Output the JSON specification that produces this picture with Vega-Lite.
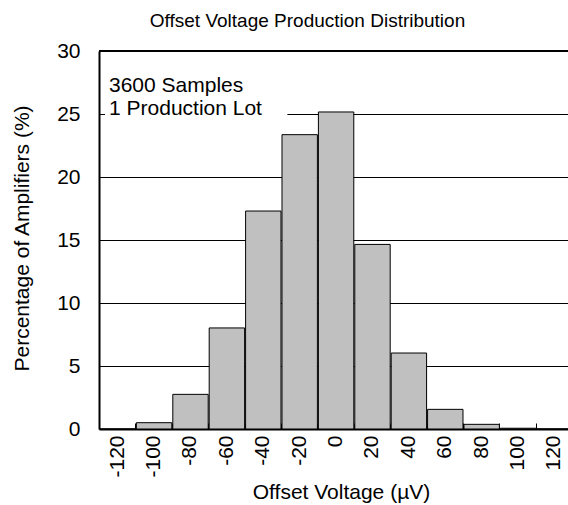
{
  "$schema": "https://vega.github.io/schema/vega-lite/v6.json",
  "width": 469,
  "height": 378,
  "autosize": {"type": "none"},
  "padding": {"left": 99, "top": 51, "right": 0, "bottom": 76},
  "background": "white",
  "config": {
    "view": {"stroke": null},
    "font": "Liberation Sans",
    "axis": {"labelFont": "Liberation Sans", "titleFont": "Liberation Sans", "labelColor": "#000", "titleColor": "#000", "titleFontWeight": "normal"}
  },
  "title": {
    "text": "Offset Voltage Production Distribution",
    "fontSize": 19,
    "fontWeight": "normal",
    "color": "#000",
    "anchor": "middle",
    "dx": -26,
    "offset": 24,
    "dy": 30,
    "baseline": "alphabetic"
  },
  "layer": [
    {
      "data": {
        "values": [
          {"center": -120, "start": -130, "end": -110, "pct": 0},
          {"center": -100, "start": -110, "end": -90, "pct": 0.5},
          {"center": -80, "start": -90, "end": -70, "pct": 2.75},
          {"center": -60, "start": -70, "end": -50, "pct": 8.02},
          {"center": -40, "start": -50, "end": -30, "pct": 17.3},
          {"center": -20, "start": -30, "end": -10, "pct": 23.36},
          {"center": 0, "start": -10, "end": 10, "pct": 25.16},
          {"center": 20, "start": 10, "end": 30, "pct": 14.65},
          {"center": 40, "start": 30, "end": 50, "pct": 6.03},
          {"center": 60, "start": 50, "end": 70, "pct": 1.56},
          {"center": 80, "start": 70, "end": 90, "pct": 0.37},
          {"center": 100, "start": 90, "end": 110, "pct": 0.06},
          {"center": 120, "start": 110, "end": 130, "pct": 0}
        ]
      },
      "mark": {"type": "bar", "fill": "#c0c0c0", "stroke": "#000", "strokeWidth": 1, "clip": true},
      "encoding": {
        "x": {
          "field": "start",
          "type": "quantitative",
          "bin": "binned",
          "scale": {"domain": [-130, 127.7], "nice": false, "zero": false},
          "axis": {
            "values": [-120, -100, -80, -60, -40, -20, 0, 20, 40, 60, 80, 100, 120],
            "tickCount": 30,
            "labelExpr": "replace(datum.label, '\u2212', '-')",
            "labelOverlap": false,
            "labelAngle": -90,
            "labelFontSize": 21,
            "labelPadding": 12,
            "tickOffset": 18.2,
            "labelOffset": -18.2,
            "tickSize": -6,
            "tickColor": "#000",
            "tickWidth": 1,
            "domainColor": "#000",
            "domainWidth": 2,
            "grid": false,
            "title": "Offset Voltage (µV)",
            "titleFontSize": 21,
            "titleBaseline": "alphabetic",
            "titleX": 242,
            "titleY": 69
          }
        },
        "x2": {"field": "end"},
        "y": {
          "field": "pct",
          "type": "quantitative",
          "scale": {"domain": [0, 30], "nice": false},
          "axis": {
            "values": [0, 5, 10, 15, 20, 25, 30],
            "tickCount": 30,
            "ticks": false,
            "labelFontSize": 21,
            "labelPadding": 19,
            "domainColor": "#000",
            "domainWidth": 2,
            "grid": true,
            "gridColor": "#000",
            "gridWidth": 1.2,
            "title": "Percentage of Amplifiers (%)",
            "titleFontSize": 21,
            "titleX": -77,
            "titleY": 187,
            "titleBaseline": "middle",
            "titleAlign": "center"
          }
        }
      }
    },
    {
      "data": {"values": [{}]},
      "mark": {"type": "rect", "fill": "white", "stroke": null},
      "encoding": {
        "x": {"datum": -126.7},
        "x2": {"datum": -26.5},
        "y": {"datum": 24.4},
        "y2": {"datum": 29}
      }
    },
    {
      "data": {"values": [{}]},
      "mark": {"type": "text", "text": ["3600 Samples", "1 Production Lot"], "align": "left", "baseline": "alphabetic", "fontSize": 21, "lineHeight": 23, "color": "#000"},
      "encoding": {
        "x": {"datum": -124.5},
        "y": {"datum": 26.75}
      }
    },
    {
      "data": {"values": [{}]},
      "mark": {"type": "rule", "stroke": "#000", "strokeWidth": 2},
      "encoding": {
        "y": {"datum": 30}
      }
    }
  ]
}
